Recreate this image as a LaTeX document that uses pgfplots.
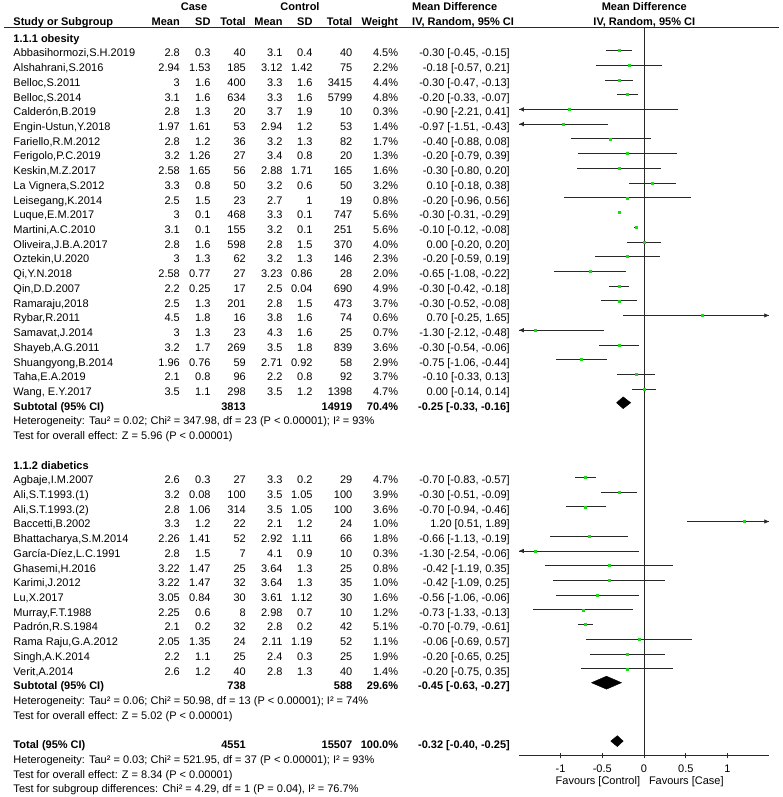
\documentclass[border=0pt]{standalone}
\usepackage{pgfplots}
\pgfplotsset{compat=1.18}
\usepackage{pgfplotstable}
\usepackage{fontspec}
\setmainfont{Liberation Sans}
\usetikzlibrary{arrows.meta}
\newcommand\f{\fontsize{11bp}{13bp}\selectfont}
\definecolor{sqgreen}{RGB}{30,215,30}
\definecolor{ln}{RGB}{40,40,40}

\pgfplotstableread{
r md lo hi
1 -0.30 -0.45 -0.15
2 -0.18 -0.57 0.21
3 -0.30 -0.47 -0.13
4 -0.20 -0.33 -0.07
5 -0.90 -2.21 0.41
6 -0.97 -1.51 -0.43
7 -0.40 -0.88 0.08
8 -0.20 -0.79 0.39
9 -0.30 -0.80 0.20
10 0.10 -0.18 0.38
11 -0.20 -0.96 0.56
12 -0.30 -0.31 -0.29
13 -0.10 -0.12 -0.08
14 0.00 -0.20 0.20
15 -0.20 -0.59 0.19
16 -0.65 -1.08 -0.22
17 -0.30 -0.42 -0.18
18 -0.30 -0.52 -0.08
19 0.70 -0.25 1.65
20 -1.30 -2.12 -0.48
21 -0.30 -0.54 -0.06
22 -0.75 -1.06 -0.44
23 -0.10 -0.33 0.13
24 0.00 -0.14 0.14
30 -0.70 -0.83 -0.57
31 -0.30 -0.51 -0.09
32 -0.70 -0.94 -0.46
33 1.20 0.51 1.89
34 -0.66 -1.13 -0.19
35 -1.30 -2.54 -0.06
36 -0.42 -1.19 0.35
37 -0.42 -1.09 0.25
38 -0.56 -1.06 -0.06
39 -0.73 -1.33 -0.13
40 -0.70 -0.79 -0.61
41 -0.06 -0.69 0.57
42 -0.20 -0.65 0.25
43 -0.20 -0.75 0.35
}\studies

\newcommand\Y[1]{42.2+14.72*#1}
\newcommand\R[9]{%
 \node[anchor=base west] at (13.3,\Y{#1}) {#2};
 \node[anchor=base east] at (180,\Y{#1}) {#3};
 \node[anchor=base east] at (210.7,\Y{#1}) {#4};
 \node[anchor=base east] at (246,\Y{#1}) {#5};
 \node[anchor=base east] at (282.7,\Y{#1}) {#6};
 \node[anchor=base east] at (312.7,\Y{#1}) {#7};
 \node[anchor=base east] at (352.5,\Y{#1}) {#8};
 \node[anchor=base east] at (398.3,\Y{#1}) {#9\%};
 \def\currow{#1}\Rci}
\newcommand\Rci[1]{\node[anchor=base east] at (510,\Y{\currow}) {#1};}
\newcommand\Sub[5]{%
 \node[anchor=base west] at (13.3,\Y{#1}) {\bfseries #2};
 \node[anchor=base east] at (246,\Y{#1}) {\bfseries #3};
 \node[anchor=base east] at (352.5,\Y{#1}) {\bfseries #4};
 \def\currow{#1}\def\curw{#5}\Subci}
\newcommand\Subci[1]{%
 \node[anchor=base east] at (398.3,\Y{\currow}) {\bfseries \curw\%};
 \node[anchor=base east] at (510,\Y{\currow}) {\bfseries #1};}
\newcommand\T[2]{\node[anchor=base west] at (13.3,\Y{#1}) {#2};}

\begin{document}
\begin{tikzpicture}[font=\f]
\useasboundingbox (0,0) rectangle (783bp,797bp);
\begin{axis}[
  at={(518.8bp,41.3bp)}, anchor=south west,
  scale only axis, width=250.5bp, height=728.7bp,
  xmin=-1.5, xmax=1.5, ymin=-48.91, ymax=0.598,
  axis x line=bottom, axis y line=none,
  axis line style={-, ln, line width=0.7pt},
  xtick={-1,-0.5,0,0.5,1}, xticklabels={-1,-0.5,0,0.5,1},
  ytick=\empty,
  tick align=center, major tick length=5.5bp,
  tick style={ln, line width=0.7pt},
  xticklabel style={font=\f, inner sep=0pt, anchor=north, yshift=-6.6bp},
  clip=false,
]
\addplot[ln, line width=0.7pt] coordinates {(0,0.598) (0,-48.91)};
\addplot[draw=none, mark=none,
  error bars/.cd, x dir=both, x explicit, error mark=none,
  error bar style={ln, line width=0.7pt}]
  table[x=md, y expr=-\thisrow{r},
    x error plus expr={min(\thisrow{hi},1.5)-\thisrow{md}},
    x error minus expr={\thisrow{md}-max(\thisrow{lo},-1.5)}] {\studies};
\addplot[only marks, mark=square*, mark size=1bp, color=sqgreen]
  table[x=md, y expr=-\thisrow{r}] {\studies};
% arrows for intervals beyond the axis
\addplot[ln, line width=0.7pt, -{Latex[length=5bp,width=4.5bp]}] coordinates {(-1.2,-5) (-1.5,-5)};
\addplot[ln, line width=0.7pt, -{Latex[length=5bp,width=4.5bp]}] coordinates {(-1.2,-6) (-1.5,-6)};
\addplot[ln, line width=0.7pt, -{Latex[length=5bp,width=4.5bp]}] coordinates {(-1.2,-20) (-1.5,-20)};
\addplot[ln, line width=0.7pt, -{Latex[length=5bp,width=4.5bp]}] coordinates {(-1.2,-35) (-1.5,-35)};
\addplot[ln, line width=0.7pt, -{Latex[length=5bp,width=4.5bp]}] coordinates {(1.2,-19) (1.5,-19)};
\addplot[ln, line width=0.7pt, -{Latex[length=5bp,width=4.5bp]}] coordinates {(1.2,-33) (1.5,-33)};
% diamonds
\addplot[fill=black, draw=black] coordinates {(-0.33,-24.93) (-0.25,-24.53) (-0.16,-24.93) (-0.25,-25.33) (-0.33,-24.93)};
\addplot[fill=black, draw=black] coordinates {(-0.63,-43.95) (-0.45,-43.51) (-0.27,-43.95) (-0.45,-44.39) (-0.63,-43.95)};
\addplot[fill=black, draw=black] coordinates {(-0.40,-47.92) (-0.32,-47.55) (-0.25,-47.92) (-0.32,-48.29) (-0.40,-47.92)};
\end{axis}

\begin{scope}[x=1bp, y=-1bp, shift={(0,797bp)}, every node/.style={inner sep=0pt, font=\f}]
% headers
\node[anchor=base] at (194,11) {\bfseries Case};
\node[anchor=base] at (300,11) {\bfseries Control};
\node[anchor=base west] at (412,11) {\bfseries Mean Difference};
\node[anchor=base] at (644.3,11) {\bfseries Mean Difference};
\node[anchor=base west] at (13.3,26) {\bfseries Study or Subgroup};
\node[anchor=base east] at (180,26) {\bfseries Mean};
\node[anchor=base east] at (210.7,26) {\bfseries SD};
\node[anchor=base east] at (246,26) {\bfseries Total};
\node[anchor=base east] at (282.7,26) {\bfseries Mean};
\node[anchor=base east] at (312.7,26) {\bfseries SD};
\node[anchor=base east] at (352.5,26) {\bfseries Total};
\node[anchor=base east] at (398.3,26) {\bfseries Weight};
\node[anchor=base west] at (412,26) {\bfseries IV, Random, 95\% CI};
\node[anchor=base] at (644.3,26) {\bfseries IV, Random, 95\% CI};
\draw[line width=0.8bp, ln] (4,27.6) -- (779,27.6);

\T{0}{\bfseries 1.1.1 obesity}
\R{1}{Abbasihormozi,S.H.2019}{2.8}{0.3}{40}{3.1}{0.4}{40}{4.5}{-0.30 [-0.45, -0.15]}
\R{2}{Alshahrani,S.2016}{2.94}{1.53}{185}{3.12}{1.42}{75}{2.2}{-0.18 [-0.57, 0.21]}
\R{3}{Belloc,S.2011}{3}{1.6}{400}{3.3}{1.6}{3415}{4.4}{-0.30 [-0.47, -0.13]}
\R{4}{Belloc,S.2014}{3.1}{1.6}{634}{3.3}{1.6}{5799}{4.8}{-0.20 [-0.33, -0.07]}
\R{5}{Calderón,B.2019}{2.8}{1.3}{20}{3.7}{1.9}{10}{0.3}{-0.90 [-2.21, 0.41]}
\R{6}{Engin-Ustun,Y.2018}{1.97}{1.61}{53}{2.94}{1.2}{53}{1.4}{-0.97 [-1.51, -0.43]}
\R{7}{Fariello,R.M.2012}{2.8}{1.2}{36}{3.2}{1.3}{82}{1.7}{-0.40 [-0.88, 0.08]}
\R{8}{Ferigolo,P.C.2019}{3.2}{1.26}{27}{3.4}{0.8}{20}{1.3}{-0.20 [-0.79, 0.39]}
\R{9}{Keskin,M.Z.2017}{2.58}{1.65}{56}{2.88}{1.71}{165}{1.6}{-0.30 [-0.80, 0.20]}
\R{10}{La Vignera,S.2012}{3.3}{0.8}{50}{3.2}{0.6}{50}{3.2}{0.10 [-0.18, 0.38]}
\R{11}{Leisegang,K.2014}{2.5}{1.5}{23}{2.7}{1}{19}{0.8}{-0.20 [-0.96, 0.56]}
\R{12}{Luque,E.M.2017}{3}{0.1}{468}{3.3}{0.1}{747}{5.6}{-0.30 [-0.31, -0.29]}
\R{13}{Martini,A.C.2010}{3.1}{0.1}{155}{3.2}{0.1}{251}{5.6}{-0.10 [-0.12, -0.08]}
\R{14}{Oliveira,J.B.A.2017}{2.8}{1.6}{598}{2.8}{1.5}{370}{4.0}{0.00 [-0.20, 0.20]}
\R{15}{Oztekin,U.2020}{3}{1.3}{62}{3.2}{1.3}{146}{2.3}{-0.20 [-0.59, 0.19]}
\R{16}{Qi,Y.N.2018}{2.58}{0.77}{27}{3.23}{0.86}{28}{2.0}{-0.65 [-1.08, -0.22]}
\R{17}{Qin,D.D.2007}{2.2}{0.25}{17}{2.5}{0.04}{690}{4.9}{-0.30 [-0.42, -0.18]}
\R{18}{Ramaraju,2018}{2.5}{1.3}{201}{2.8}{1.5}{473}{3.7}{-0.30 [-0.52, -0.08]}
\R{19}{Rybar,R.2011}{4.5}{1.8}{16}{3.8}{1.6}{74}{0.6}{0.70 [-0.25, 1.65]}
\R{20}{Samavat,J.2014}{3}{1.3}{23}{4.3}{1.6}{25}{0.7}{-1.30 [-2.12, -0.48]}
\R{21}{Shayeb,A.G.2011}{3.2}{1.7}{269}{3.5}{1.8}{839}{3.6}{-0.30 [-0.54, -0.06]}
\R{22}{Shuangyong,B.2014}{1.96}{0.76}{59}{2.71}{0.92}{58}{2.9}{-0.75 [-1.06, -0.44]}
\R{23}{Taha,E.A.2019}{2.1}{0.8}{96}{2.2}{0.8}{92}{3.7}{-0.10 [-0.33, 0.13]}
\R{24}{Wang, E.Y.2017}{3.5}{1.1}{298}{3.5}{1.2}{1398}{4.7}{0.00 [-0.14, 0.14]}
\Sub{25}{Subtotal (95\% CI)}{3813}{14919}{70.4}{-0.25 [-0.33, -0.16]}
\T{26}{Heterogeneity: Tau² = 0.02; Chi² = 347.98, df = 23 (P < 0.00001); I² = 93\%}
\T{27}{Test for overall effect: Z = 5.96 (P < 0.00001)}

\T{29}{\bfseries 1.1.2 diabetics}
\R{30}{Agbaje,I.M.2007}{2.6}{0.3}{27}{3.3}{0.2}{29}{4.7}{-0.70 [-0.83, -0.57]}
\R{31}{Ali,S.T.1993.(1)}{3.2}{0.08}{100}{3.5}{1.05}{100}{3.9}{-0.30 [-0.51, -0.09]}
\R{32}{Ali,S.T.1993.(2)}{2.8}{1.06}{314}{3.5}{1.05}{100}{3.6}{-0.70 [-0.94, -0.46]}
\R{33}{Baccetti,B.2002}{3.3}{1.2}{22}{2.1}{1.2}{24}{1.0}{1.20 [0.51, 1.89]}
\R{34}{Bhattacharya,S.M.2014}{2.26}{1.41}{52}{2.92}{1.11}{66}{1.8}{-0.66 [-1.13, -0.19]}
\R{35}{García-Díez,L.C.1991}{2.8}{1.5}{7}{4.1}{0.9}{10}{0.3}{-1.30 [-2.54, -0.06]}
\R{36}{Ghasemi,H.2016}{3.22}{1.47}{25}{3.64}{1.3}{25}{0.8}{-0.42 [-1.19, 0.35]}
\R{37}{Karimi,J.2012}{3.22}{1.47}{32}{3.64}{1.3}{35}{1.0}{-0.42 [-1.09, 0.25]}
\R{38}{Lu,X.2017}{3.05}{0.84}{30}{3.61}{1.12}{30}{1.6}{-0.56 [-1.06, -0.06]}
\R{39}{Murray,F.T.1988}{2.25}{0.6}{8}{2.98}{0.7}{10}{1.2}{-0.73 [-1.33, -0.13]}
\R{40}{Padrón,R.S.1984}{2.1}{0.2}{32}{2.8}{0.2}{42}{5.1}{-0.70 [-0.79, -0.61]}
\R{41}{Rama Raju,G.A.2012}{2.05}{1.35}{24}{2.11}{1.19}{52}{1.1}{-0.06 [-0.69, 0.57]}
\R{42}{Singh,A.K.2014}{2.2}{1.1}{25}{2.4}{0.3}{25}{1.9}{-0.20 [-0.65, 0.25]}
\R{43}{Verit,A.2014}{2.6}{1.2}{40}{2.8}{1.3}{40}{1.4}{-0.20 [-0.75, 0.35]}
\Sub{44}{Subtotal (95\% CI)}{738}{588}{29.6}{-0.45 [-0.63, -0.27]}
\T{45}{Heterogeneity: Tau² = 0.06; Chi² = 50.98, df = 13 (P < 0.00001); I² = 74\%}
\T{46}{Test for overall effect: Z = 5.02 (P < 0.00001)}

\Sub{48}{Total (95\% CI)}{4551}{15507}{100.0}{-0.32 [-0.40, -0.25]}
\T{49}{Heterogeneity: Tau² = 0.03; Chi² = 521.95, df = 37 (P < 0.00001); I² = 93\%}
\T{50}{Test for overall effect: Z = 8.34 (P < 0.00001)}
\T{51}{Test for subgroup differences: Chi² = 4.29, df = 1 (P = 0.04), I² = 76.7\%}

\node[anchor=base] at (597.9,784.8) {Favours [Control]};
\node[anchor=base] at (686.3,784.8) {Favours [Case]};
\end{scope}
\end{tikzpicture}
\end{document}
